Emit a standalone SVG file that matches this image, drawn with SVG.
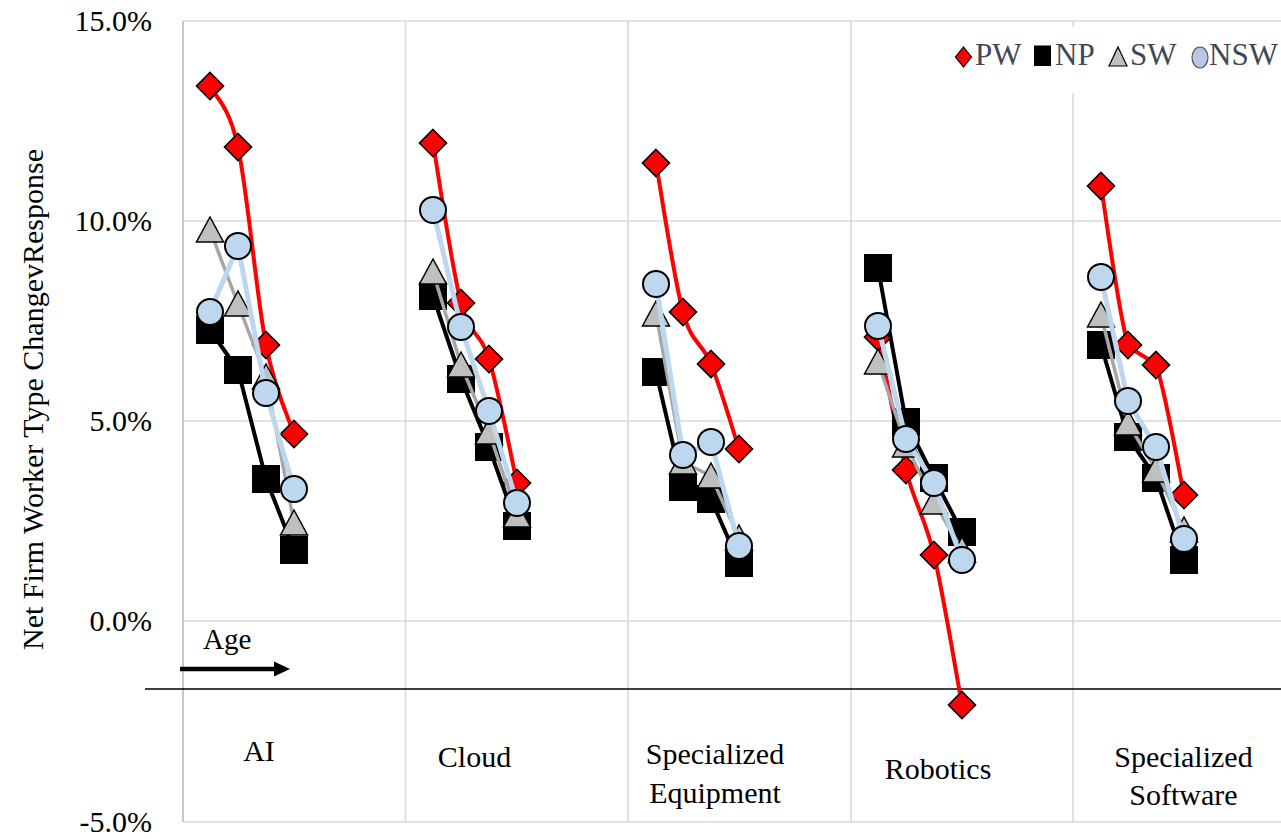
<svg xmlns="http://www.w3.org/2000/svg" width="1281" height="839" viewBox="0 0 1281 839">
<style>
text{font-family:"Liberation Serif","Times New Roman",serif;fill:#000}
.tick{font-size:30px;text-anchor:end}
.cat{font-size:30px;text-anchor:middle}
.grid{stroke:#d9d9d9;stroke-width:1.6;fill:none}
.pw{fill:none;stroke:#ff0000;stroke-width:4;stroke-linejoin:round}
.np{fill:none;stroke:#000;stroke-width:4;stroke-linejoin:round}
.sw{fill:none;stroke:#a6a6a6;stroke-width:3.5;stroke-linejoin:round}
.nsw{fill:none;stroke:#bdd7ee;stroke-width:5;stroke-linejoin:round}
.mpw{fill:#ff0000;stroke:#000;stroke-width:1.6}
.mnp{fill:#000;stroke:#000;stroke-width:1}
.msw{fill:#bfbfbf;stroke:#000;stroke-width:1.5}
.mnsw{fill:#bdd7ee;stroke:#000;stroke-width:2}
.leg{font-size:31px;fill:#404858}
</style>
<defs>
<path id="dia" d="M0,-13.5 L13.5,0 L0,13.5 L-13.5,0 Z"/>
<rect id="sq" x="-13.5" y="-13.5" width="27" height="27"/>
<path id="tri" d="M0,-13 L13.5,12 L-13.5,12 Z"/>
<circle id="cir" r="13"/>
</defs>
<rect width="1281" height="839" fill="#fff"/>
<g id="grid">
<path class="grid" d="M183,21H1281M183,221H1281M183,421H1281M183,621H1281M183,822H1281"/>
<path class="grid" d="M405.5,21V822M628,21V822M851,21V822M1073,21V822"/>
<path d="M183,21V822" stroke="#c8c8c8" stroke-width="2"/>
</g>
<g id="axis-labels">
<text class="tick" x="152" y="31">15.0%</text>
<text class="tick" x="152" y="231">10.0%</text>
<text class="tick" x="152" y="431">5.0%</text>
<text class="tick" x="152" y="631">0.0%</text>
<text class="tick" x="152" y="832">-5.0%</text>
<text font-size="30" transform="translate(43,650) rotate(-90)">Net Firm Worker Type ChangevResponse</text>
</g>
<g id="baseline"><path d="M145,689H1281" stroke="#000" stroke-width="1.3"/></g>
<g id="age">
<text x="203" y="649" font-size="29">Age</text>
<path d="M180,669H276" stroke="#000" stroke-width="4.5"/>
<path d="M274,661.5L290,669L274,676.5Z" fill="#000"/>
</g>
<g id="categories">
<text class="cat" x="259" y="761">AI</text>
<text class="cat" x="474.5" y="767">Cloud</text>
<text class="cat" x="715" y="764">Specialized</text>
<text class="cat" x="715" y="803">Equipment</text>
<text class="cat" x="938" y="779">Robotics</text>
<text class="cat" x="1183.5" y="767">Specialized</text>
<text class="cat" x="1183.5" y="805">Software</text>
</g>
<g id="connectors">
<g id="pw-lines">
<path class="pw" d="M210,86C214.67,96.17 228.67,103.83 238,147C247.33,190.17 256.67,297.17 266,345C275.33,392.83 289.33,419.17 294,434"/>
<path class="pw" d="M433,143C437.67,169.67 451.67,267 461,303C470.33,339 479.67,329 489,359C498.33,389 512.33,462.33 517,483"/>
<path class="pw" d="M656,163C660.5,187.83 673.83,278.5 683,312C692.17,345.5 701.67,341.17 711,364C720.33,386.83 734.33,434.83 739,449"/>
<path class="pw" d="M878,337C882.67,359.17 896.67,433.67 906,470C915.33,506.33 924.67,515.83 934,555C943.33,594.17 957.33,680 962,705"/>
<path class="pw" d="M1101,186C1105.5,212.5 1118.83,315.17 1128,345C1137,354 1147,357 1156,365C1165.33,390 1179.33,473.33 1184,495"/>
</g>
</g>
<g id="series-PW">
<use href="#dia" class="mpw" x="210" y="86"/><use href="#dia" class="mpw" x="238" y="147"/><use href="#dia" class="mpw" x="266" y="345"/><use href="#dia" class="mpw" x="294" y="434"/>
<use href="#dia" class="mpw" x="433" y="143"/><use href="#dia" class="mpw" x="461" y="303"/><use href="#dia" class="mpw" x="489" y="359"/><use href="#dia" class="mpw" x="517" y="483"/>
<use href="#dia" class="mpw" x="656" y="163"/><use href="#dia" class="mpw" x="683" y="312"/><use href="#dia" class="mpw" x="711" y="364"/><use href="#dia" class="mpw" x="739" y="449"/>
<use href="#dia" class="mpw" x="878" y="337"/><use href="#dia" class="mpw" x="906" y="470"/><use href="#dia" class="mpw" x="934" y="555"/><use href="#dia" class="mpw" x="962" y="705"/>
<use href="#dia" class="mpw" x="1101" y="186"/><use href="#dia" class="mpw" x="1128" y="345"/><use href="#dia" class="mpw" x="1156" y="365"/><use href="#dia" class="mpw" x="1184" y="495"/>
</g>
<g id="series-NP">
<path class="np" d="M210,330L238,370L266,479L294,550"/>
<path class="np" d="M433,296L461,379L489,447L517,526"/>
<path class="np" d="M656,372L683,487L711,499L739,563"/>
<path class="np" d="M878,268L906,422L934,478L962,532"/>
<path class="np" d="M1101,345L1128,437L1156,478L1184,560"/>
<use href="#sq" class="mnp" x="210" y="330"/><use href="#sq" class="mnp" x="238" y="370"/><use href="#sq" class="mnp" x="266" y="479"/><use href="#sq" class="mnp" x="294" y="550"/>
<use href="#sq" class="mnp" x="433" y="296"/><use href="#sq" class="mnp" x="461" y="379"/><use href="#sq" class="mnp" x="489" y="447"/><use href="#sq" class="mnp" x="517" y="526"/>
<use href="#sq" class="mnp" x="656" y="372"/><use href="#sq" class="mnp" x="683" y="487"/><use href="#sq" class="mnp" x="711" y="499"/><use href="#sq" class="mnp" x="739" y="563"/>
<use href="#sq" class="mnp" x="878" y="268"/><use href="#sq" class="mnp" x="906" y="422"/><use href="#sq" class="mnp" x="934" y="478"/><use href="#sq" class="mnp" x="962" y="532"/>
<use href="#sq" class="mnp" x="1101" y="345"/><use href="#sq" class="mnp" x="1128" y="437"/><use href="#sq" class="mnp" x="1156" y="478"/><use href="#sq" class="mnp" x="1184" y="560"/>
</g>
<g id="series-SW">
<path class="sw" d="M210,230L238,304L266,377L294,523"/>
<path class="sw" d="M433,272L461,365L489,432L517,515"/>
<path class="sw" d="M656,314L683,462L711,476L739,538"/>
<path class="sw" d="M878,362L906,445L934,502L962,550"/>
<path class="sw" d="M1101,315L1128,423L1156,470L1184,530"/>
<use href="#tri" class="msw" x="210" y="230"/><use href="#tri" class="msw" x="238" y="304"/><use href="#tri" class="msw" x="266" y="377"/><use href="#tri" class="msw" x="294" y="523"/>
<use href="#tri" class="msw" x="433" y="272"/><use href="#tri" class="msw" x="461" y="365"/><use href="#tri" class="msw" x="489" y="432"/><use href="#tri" class="msw" x="517" y="515"/>
<use href="#tri" class="msw" x="656" y="314"/><use href="#tri" class="msw" x="683" y="462"/><use href="#tri" class="msw" x="711" y="476"/><use href="#tri" class="msw" x="739" y="538"/>
<use href="#tri" class="msw" x="878" y="362"/><use href="#tri" class="msw" x="906" y="445"/><use href="#tri" class="msw" x="934" y="502"/><use href="#tri" class="msw" x="962" y="550"/>
<use href="#tri" class="msw" x="1101" y="315"/><use href="#tri" class="msw" x="1128" y="423"/><use href="#tri" class="msw" x="1156" y="470"/><use href="#tri" class="msw" x="1184" y="530"/>
</g>
<g id="series-NSW">
<path class="nsw" d="M210,312L238,246L266,393L294,489"/>
<path class="nsw" d="M433,210L461,327L489,411L517,503"/>
<path class="nsw" d="M656,284L683,455L711,442L739,546"/>
<path class="nsw" d="M878,326L906,439L934,483L962,560"/>
<path class="nsw" d="M1101,277L1128,401L1156,447L1184,539"/>
<use href="#cir" class="mnsw" x="210" y="312"/><use href="#cir" class="mnsw" x="238" y="246"/><use href="#cir" class="mnsw" x="266" y="393"/><use href="#cir" class="mnsw" x="294" y="489"/>
<use href="#cir" class="mnsw" x="433" y="210"/><use href="#cir" class="mnsw" x="461" y="327"/><use href="#cir" class="mnsw" x="489" y="411"/><use href="#cir" class="mnsw" x="517" y="503"/>
<use href="#cir" class="mnsw" x="656" y="284"/><use href="#cir" class="mnsw" x="683" y="455"/><use href="#cir" class="mnsw" x="711" y="442"/><use href="#cir" class="mnsw" x="739" y="546"/>
<use href="#cir" class="mnsw" x="878" y="326"/><use href="#cir" class="mnsw" x="906" y="439"/><use href="#cir" class="mnsw" x="934" y="483"/><use href="#cir" class="mnsw" x="962" y="560"/>
<use href="#cir" class="mnsw" x="1101" y="277"/><use href="#cir" class="mnsw" x="1128" y="401"/><use href="#cir" class="mnsw" x="1156" y="447"/><use href="#cir" class="mnsw" x="1184" y="539"/>
</g>
<g id="legend">
<rect x="940" y="27" width="341" height="66" fill="#fff"/>
<path d="M963.5,47L971.5,57L963.5,67L955.5,57Z" fill="#ff0000" stroke="#000" stroke-width="1.2"/>
<text class="leg" x="975" y="65">PW</text>
<rect x="1034" y="45.5" width="17" height="20.5" fill="#000"/>
<text class="leg" x="1055" y="65">NP</text>
<path d="M1118,47L1127,66L1109,66Z" fill="#bfbfbf" stroke="#000" stroke-width="1.2"/>
<text class="leg" x="1130" y="65">SW</text>
<ellipse cx="1200" cy="57.5" rx="8" ry="10.5" fill="#b4c7e7" stroke="#555" stroke-width="1.2"/>
<text class="leg" x="1209" y="65">NSW</text>
</g>
</svg>
